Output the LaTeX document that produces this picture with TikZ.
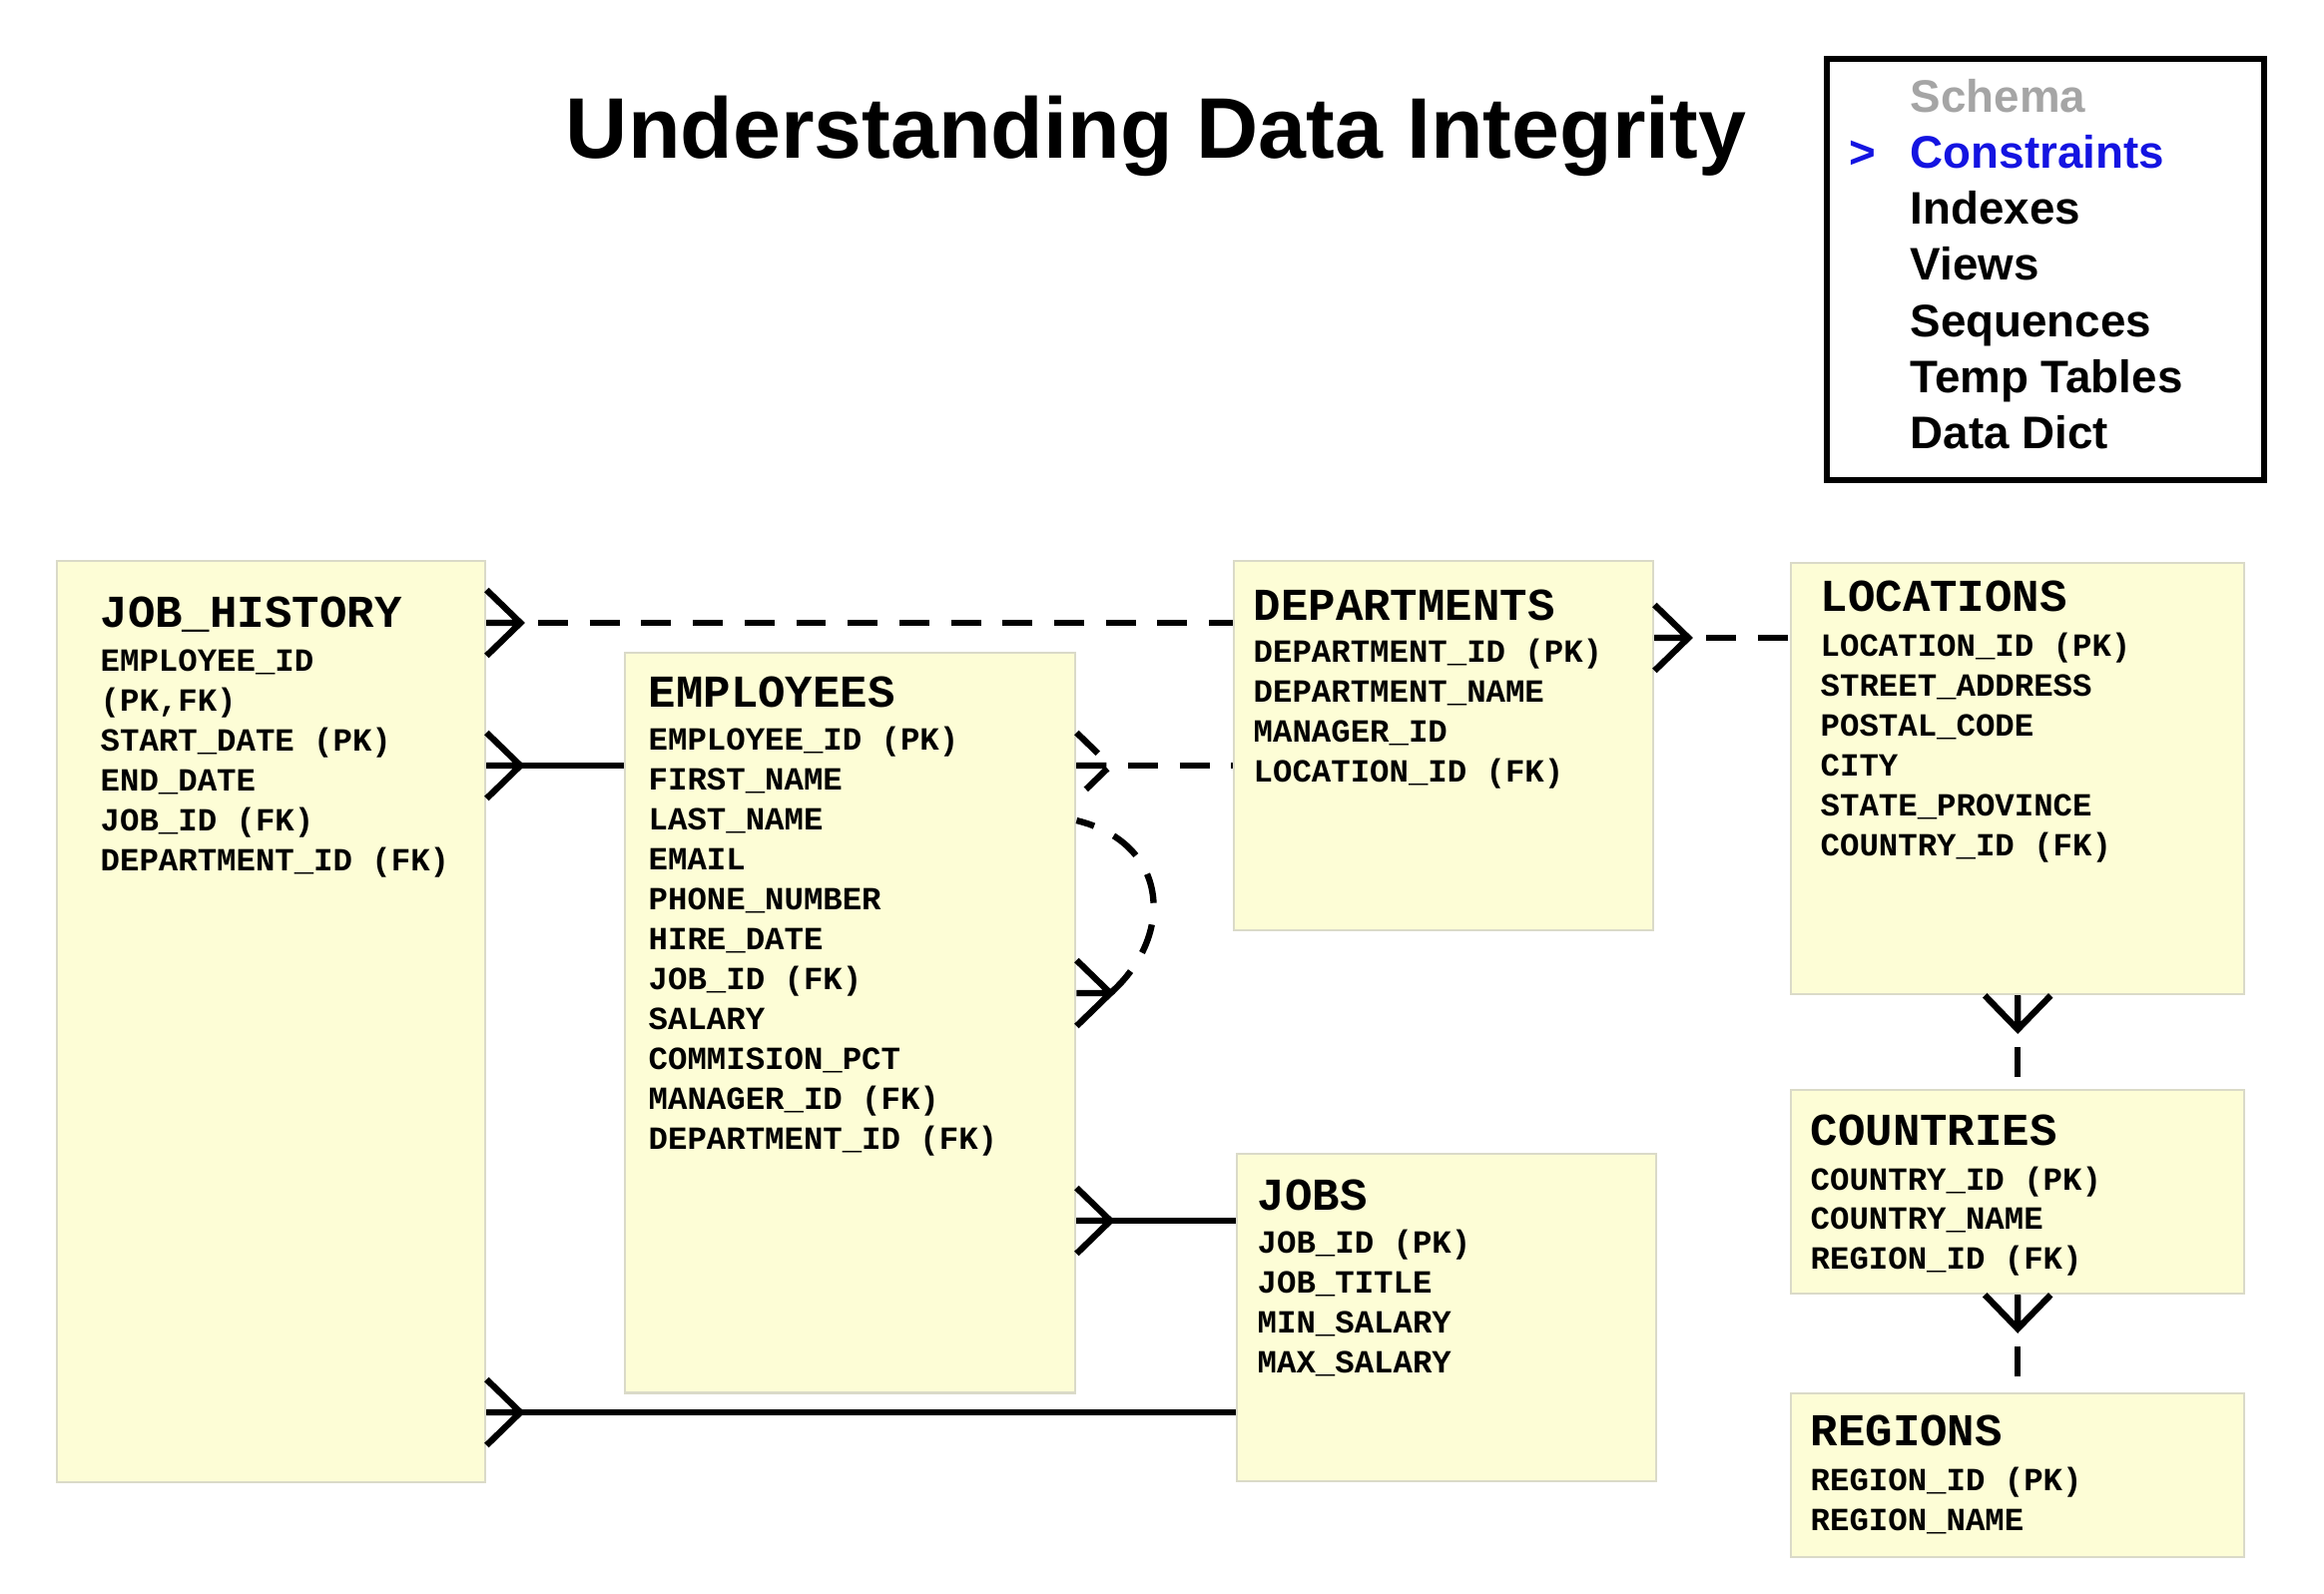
\documentclass[tikz,border=0pt]{standalone}
\usepackage{fontspec}
\setsansfont{Liberation Sans}
\setmonofont{Liberation Mono}
\usetikzlibrary{calc,positioning}
\definecolor{TblFill}{RGB}{253,253,214}
\definecolor{TblLine}{RGB}{218,218,200}
\definecolor{MenuBlue}{RGB}{20,20,225}
\definecolor{MenuGray}{RGB}{165,165,165}
\tikzset{
  tbl/.style={draw=TblLine,fill=TblFill,line width=.6pt,inner sep=0pt,anchor=north west},
  tname/.style={anchor=base west,inner sep=0pt,font=\fontsize{13}{15}\selectfont\ttfamily\bfseries},
  fld/.style={anchor=base west,inner sep=0pt,font=\fontsize{9.2}{11}\selectfont\ttfamily\bfseries},
  menu/.style={anchor=base west,inner sep=0pt,font=\fontsize{13}{15}\selectfont\sffamily\bfseries},
  rel/.style={line width=1.8pt},
  reldash/.style={rel,dash pattern=on 8.5pt off 6.2pt},
  crow/.pic={\draw[rel,pic actions] (0,-33) -- (34,0) -- (0,33) (0,0) -- (34,0);}
}

\begin{document}
\begin{tikzpicture}[x=.01cm,y=-.01cm]
\useasboundingbox (0,0) rectangle (2328,1596);
% title and menu
\node[font=\fontsize{24.5}{28}\selectfont\sffamily\bfseries,anchor=base] (title) at (1158,158) {Understanding Data Integrity};
\node[draw,line width=1.7pt,inner sep=0pt,minimum width=4.38cm,minimum height=4.22cm,anchor=north west] (menubox) at (1827,56) {};
\node[menu,MenuGray] (m0) at (1913,112) {Schema};
\node[menu,MenuBlue] (m1) at (1913,168) {Constraints};
\node[menu,MenuBlue] (mark) at (1852,168) {>};
\foreach \t [count=\i from 2] in {Indexes,Views,Sequences,Temp Tables,Data Dict}
  \node[menu] (m\i) at (1913,{112+56.3*\i}) {\t};
% tables
\node[tbl,minimum width=4.29cm,minimum height=9.22cm] (jobhist) at (56,561) {};
\node[tname] (jh-t) at (100,628) {JOB\_HISTORY};
\foreach \f [count=\i from 0] in {EMPLOYEE\_ID,{(PK,FK)},START\_DATE (PK),END\_DATE,JOB\_ID (FK),DEPARTMENT\_ID (FK)}
  \node[fld] (jh-f\i) at (100,{672+40*\i}) {\f};
\node[tbl,minimum width=4.51cm,minimum height=7.41cm] (emp) at (625,653) {};
\node[tname] (emp-t) at (649,708) {EMPLOYEES};
\foreach \f [count=\i from 0] in {EMPLOYEE\_ID (PK),FIRST\_NAME,LAST\_NAME,EMAIL,PHONE\_NUMBER,HIRE\_DATE,JOB\_ID (FK),SALARY,COMMISION\_PCT,MANAGER\_ID (FK),DEPARTMENT\_ID (FK)}
  \node[fld] (emp-f\i) at (649,{751+40*\i}) {\f};
\node[tbl,minimum width=4.2cm,minimum height=3.7cm] (dept) at (1235,561) {};
\node[tname] (dept-t) at (1255,621) {DEPARTMENTS};
\foreach \f [count=\i from 0] in {DEPARTMENT\_ID (PK),DEPARTMENT\_NAME,MANAGER\_ID,LOCATION\_ID (FK)}
  \node[fld] (dept-f\i) at (1255,{663+40*\i}) {\f};
\node[tbl,minimum width=4.2cm,minimum height=3.28cm] (jobs) at (1238,1155) {};
\node[tname] (jobs-t) at (1259,1212) {JOBS};
\foreach \f [count=\i from 0] in {JOB\_ID (PK),JOB\_TITLE,MIN\_SALARY,MAX\_SALARY}
  \node[fld] (jobs-f\i) at (1259,{1255+40*\i}) {\f};
\node[tbl,minimum width=4.54cm,minimum height=4.32cm] (loc) at (1793,563) {};
\node[tname] (loc-t) at (1823,612) {LOCATIONS};
\foreach \f [count=\i from 0] in {LOCATION\_ID (PK),STREET\_ADDRESS,POSTAL\_CODE,CITY,STATE\_PROVINCE,COUNTRY\_ID (FK)}
  \node[fld] (loc-f\i) at (1823,{657+40*\i}) {\f};
\node[tbl,minimum width=4.54cm,minimum height=2.04cm] (ctry) at (1793,1091) {};
\node[tname] (ctry-t) at (1813,1147) {COUNTRIES};
\foreach \f [count=\i from 0] in {COUNTRY\_ID (PK),COUNTRY\_NAME,REGION\_ID (FK)}
  \node[fld] (ctry-f\i) at (1813,{1192+39.5*\i}) {\f};
\node[tbl,minimum width=4.54cm,minimum height=1.64cm] (reg) at (1793,1395) {};
\node[tname] (reg-t) at (1813,1448) {REGIONS};
\foreach \f [count=\i from 0] in {REGION\_ID (PK),REGION\_NAME}
  \node[fld] (reg-f\i) at (1813,{1493+40*\i}) {\f};
% relationships
\path (jobhist.north east) ++(0,63) coordinate (jhD) ++(0,143) coordinate (jhE) ++(0,648) coordinate (jhJ);
\path (emp.north east) ++(0,114) coordinate (empD) ++(0,55) coordinate (empM) ++(0,173) coordinate (empS) ++(0,228) coordinate (empJ);
\path (dept.north east) ++(0,78) coordinate (deptL);
\draw[reldash] (jhD) -- (jhD -| dept.west);
\pic at (jhD) {crow};
\draw[rel] (jhE) -- (jhE -| emp.west);
\pic at (jhE) {crow};
\draw[rel] (jhJ) -- (jhJ -| jobs.west);
\pic at (jhJ) {crow};
\draw[reldash] (empD) -- (empD -| dept.west);
\pic[dash pattern=on 8.5pt off 6.2pt] at (empD) {crow};
\draw[rel] (empJ) -- (empJ -| jobs.west);
\pic at (empJ) {crow};
\pic at (empS) {crow};
\draw[reldash] ($(empS)+(34,0)$) .. controls +(65,-58) and +(93,23) .. (empM);
\draw[reldash] (deptL) -- (deptL -| loc.west);
\pic at (deptL) {crow};
\draw[reldash] (loc.south) -- (ctry.north);
\pic[rotate=-90] at (loc.south) {crow};
\draw[reldash] (ctry.south) -- (reg.north);
\pic[rotate=-90] at (ctry.south) {crow};
\end{tikzpicture}
\end{document}
